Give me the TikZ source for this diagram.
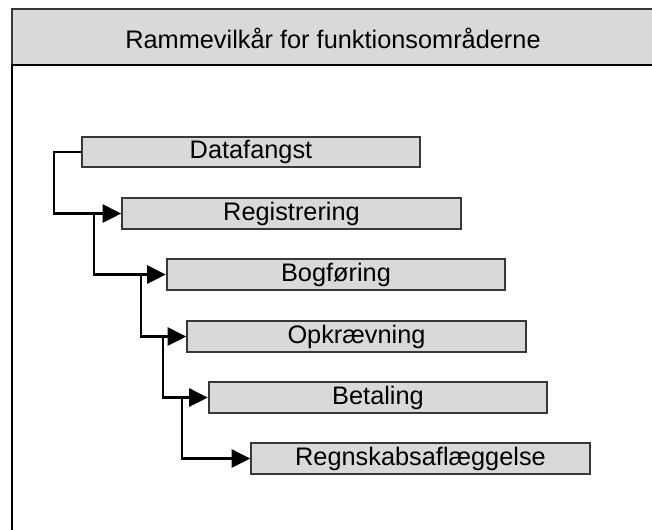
\documentclass[tikz,border=0pt]{standalone}
\usepackage{fontspec}
\setmainfont{Liberation Sans}
\usetikzlibrary{arrows.meta}

\definecolor{boxgray}{RGB}{217,217,217}
\definecolor{edgegray}{RGB}{56,56,56}

\tikzset{
  stage/.style={draw=edgegray, line width=1.3pt, fill=boxgray, minimum width=254pt, minimum height=23pt, inner sep=0pt, font=\fontsize{19}{22}\selectfont},
  feed/.style={line width=1.8pt, -{Triangle[length=14pt,width=13.5pt]}},
}

\begin{document}
\begin{tikzpicture}[x=0.75pt,y=0.75pt,yscale=-1,xscale=1]
\useasboundingbox (0,0) rectangle (652,529);
\clip (0,0) rectangle (652,529);

%Shape: Rectangle
\draw [draw=edgegray, line width=0.9pt, fill=boxgray] (12,9) rectangle (670,65);
%Straight Lines
\draw [line width=1.8pt] (670,65) -- (12,65) -- (12,545);

% Text Node
\node (title) [anchor=base, font=\fontsize{19}{22}\selectfont] at (333,48) {Rammevilkår for funktionsområderne};

% Text Node
\node [stage] (data) at (251,152) {Datafangst};
\node [stage] (reg) at (291.5,213.5) {Registrering};
\node [stage] (bog) at (336,274.5) {Bogføring};
\node [stage] (opk) at (356.5,336.5) {Opkrævning};
\node [stage] (bet) at (378,397.5) {Betaling};
\node [stage] (regn) at (420.5,458.5) {Regnskabsaflæggelse};

%Straight Lines
\coordinate (fork1) at (54,152);
\coordinate (fork2) at (94,213.5);
\coordinate (fork3) at (141,274.5);
\coordinate (fork4) at (163,336.5);
\coordinate (fork5) at (182,397.5);
\draw [feed] (data.west) -- (fork1) |- (reg.west);
\draw [feed] (fork2) |- (bog.west);
\draw [feed] (fork3) |- (opk.west);
\draw [feed] (fork4) |- (bet.west);
\draw [feed] (fork5) |- (regn.west);

\end{tikzpicture}
\end{document}
